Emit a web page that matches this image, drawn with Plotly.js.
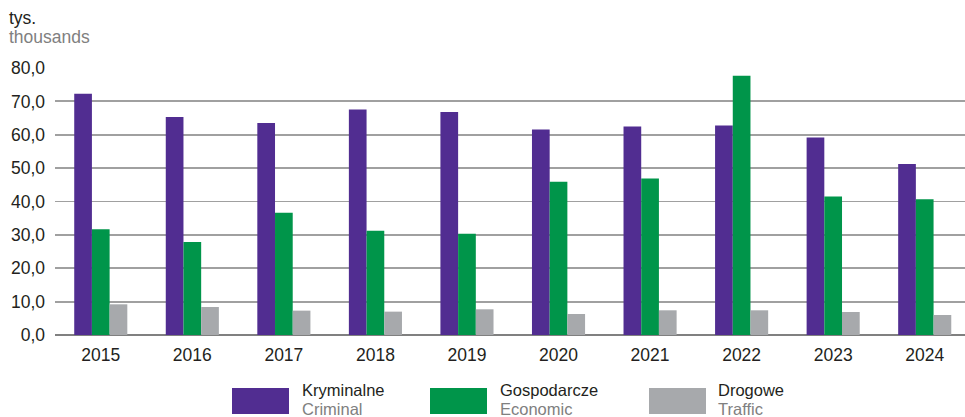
<!DOCTYPE html>
<html><head><meta charset="utf-8">
<script src="https://cdn.plot.ly/plotly-3.0.1.min.js"></script>
<style>html,body{margin:0;padding:0;background:#fff}</style>
</head><body>
<div id="chart" style="width:965px;height:417px"></div>
<script>
const years = ['2015','2016','2017','2018','2019','2020','2021','2022','2023','2024'];
const criminal = [72.3, 65.3, 63.5, 67.6, 66.8, 61.6, 62.5, 62.8, 59.2, 51.2];
const economic = [31.7, 27.9, 36.6, 31.2, 30.3, 45.9, 46.9, 77.7, 41.5, 40.7];
const traffic  = [9.2, 8.4, 7.3, 7.0, 7.7, 6.3, 7.4, 7.4, 6.9, 6.0];
const namesPL = ['Kryminalne','Gospodarcze','Drogowe'];
const namesEN = ['Criminal','Economic','Traffic'];
const colors = ['#512D91','#00954A','#A7A9AC'];
const yTicks = [0,10,20,30,40,50,60,70,80];

const W=965,H=417,L=55,R=0,T=68,B=82;
const pw=W-L-R, ph=H-T-B;
const px=x=>(x-L)/pw, py=y=>(H-B-y)/ph;
const FONT='Liberation Sans, Arial, sans-serif';
const FS=17.5, LFS=16.5;

const series=[criminal,economic,traffic];
const data=series.map((s,i)=>({type:'bar',x:years,y:s,name:namesPL[i],marker:{color:colors[i],line:{width:0}},hoverinfo:'x+y',showlegend:false}));

const shapes=[],annotations=[];
const legX=[232,430,649];
const legT=[303,501,719];
legX.forEach((x0,i)=>{
  shapes.push({type:'rect',xref:'paper',yref:'paper',x0:px(x0),x1:px(x0+57),y0:py(414),y1:py(388),fillcolor:colors[i],line:{width:0}});
  annotations.push({xref:'paper',yref:'paper',x:px(legT[i]-2),y:py(390),xanchor:'left',yanchor:'middle',showarrow:false,borderpad:0,
    text:namesPL[i],font:{family:FONT,size:LFS,color:'#231F20'}});
  annotations.push({xref:'paper',yref:'paper',x:px(legT[i]-2),y:py(408.5),xanchor:'left',yanchor:'middle',showarrow:false,borderpad:0,
    text:namesEN[i],font:{family:FONT,size:LFS,color:'#808080'}});
});
annotations.push({xref:'paper',yref:'paper',x:px(8),y:py(18),xanchor:'left',yanchor:'middle',showarrow:false,borderpad:0,
  text:'tys.',font:{family:FONT,size:FS,color:'#231F20'}});
annotations.push({xref:'paper',yref:'paper',x:px(8),y:py(37),xanchor:'left',yanchor:'middle',showarrow:false,borderpad:0,
  text:'thousands',font:{family:FONT,size:FS,color:'#808080'}});

const layout={
  width:W,height:H,margin:{l:L,r:R,t:T,b:B},
  paper_bgcolor:'#fff',plot_bgcolor:'#fff',
  barmode:'group',bargap:0.42,bargroupgap:0,
  separators:', ',
  font:{family:FONT,size:FS,color:'#231F20'},
  xaxis:{type:'category',range:[-0.5,9.44],showgrid:false,zeroline:false,showline:false,ticks:'',tickfont:{size:FS,color:'#231F20'},ticklabelstandoff:7},
  yaxis:{range:[0,80],tickvals:yTicks,tickformat:'.1f',showgrid:true,gridcolor:'#A0A0A0',gridwidth:1.8,zeroline:true,zerolinecolor:'#808080',zerolinewidth:2,showline:false,ticks:'',ticklen:0,tickfont:{size:FS,color:'#231F20'},ticklabelstandoff:9},
  shapes:shapes,annotations:annotations
};
Plotly.newPlot('chart',data,layout,{displayModeBar:false,staticPlot:true});
</script>
</body></html>
